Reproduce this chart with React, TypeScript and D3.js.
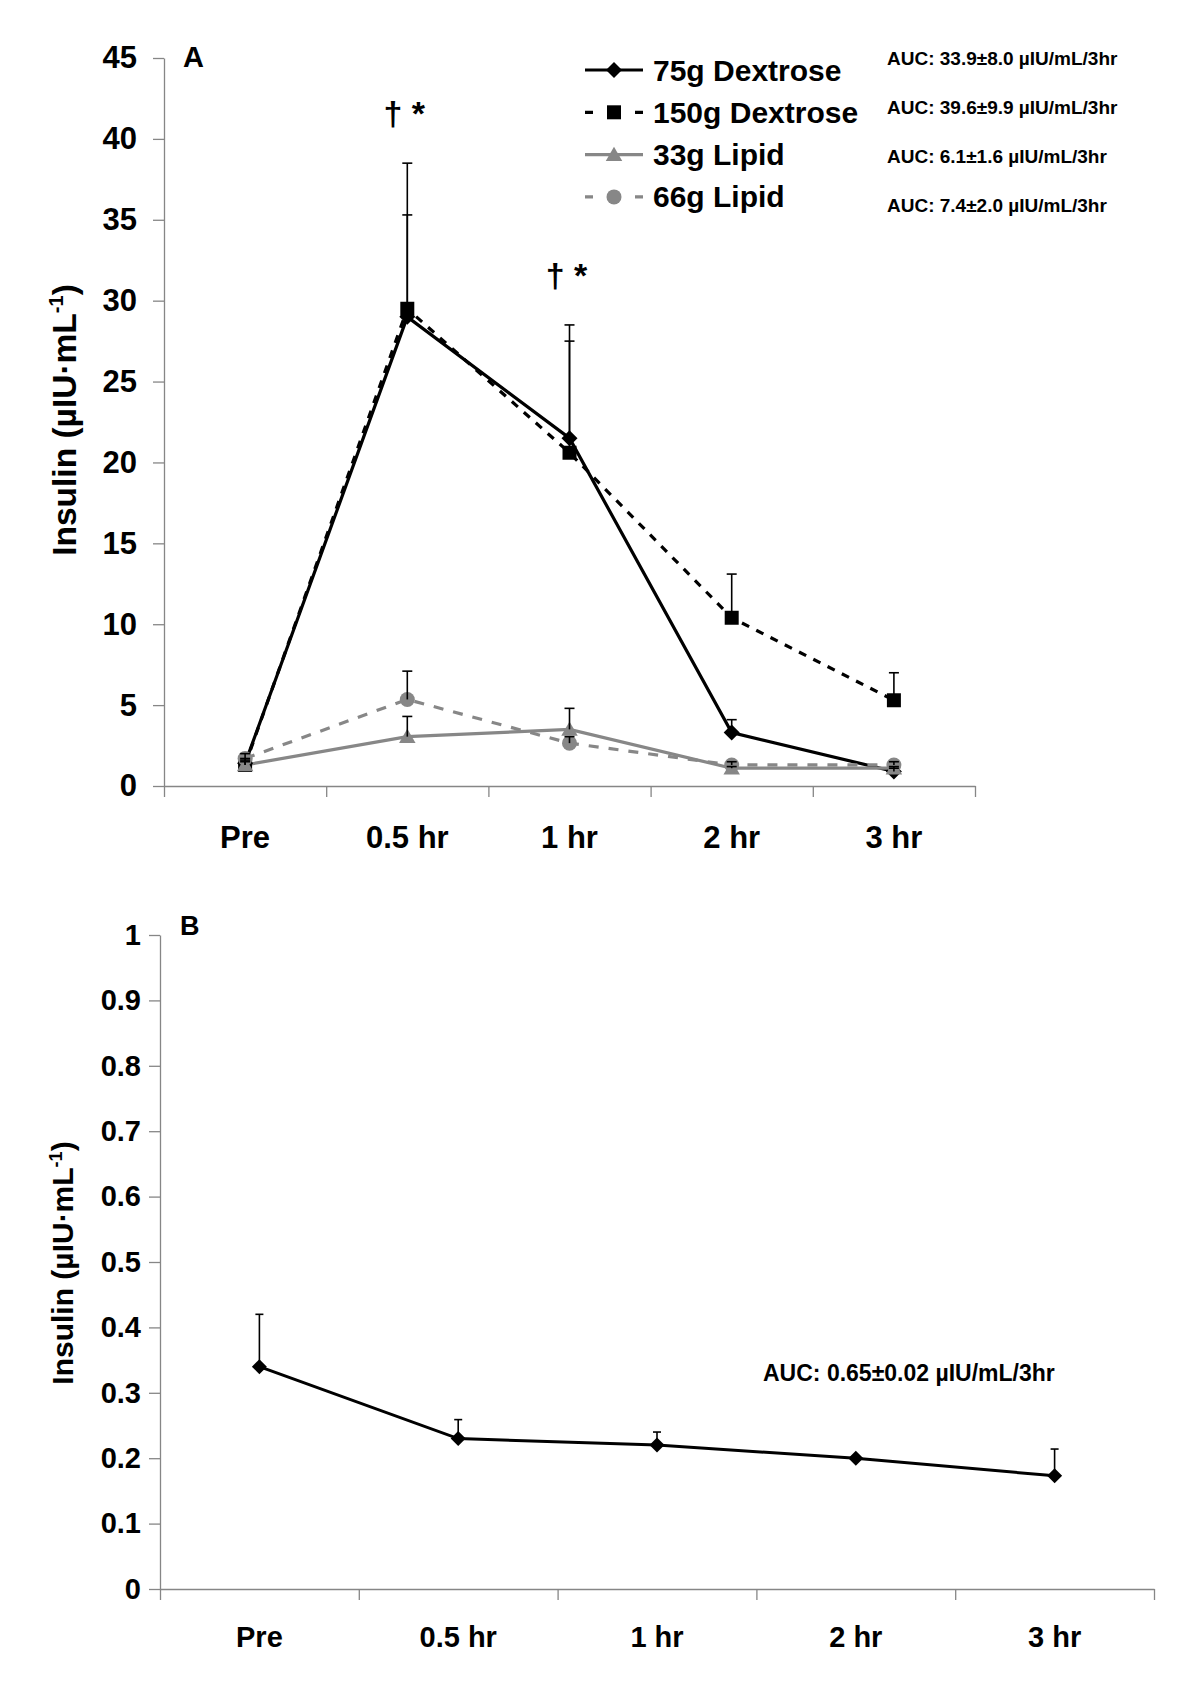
import * as React from "react";
import * as d3 from "d3";

// time points on both panels
const timePoints = ["Pre", "0.5 hr", "1 hr", "2 hr", "3 hr"];

// panel A, insulin (µIU/mL), mean and SD
const dex75 = [1.4, 29.0, 21.5, 3.3, 0.9];
const dex75Sd = [0.3, 6.3, 6.0, 0.8, 0.2];
const dex150 = [1.3, 29.5, 20.6, 10.4, 5.3];
const dex150Sd = [0.3, 9.0, 7.9, 2.7, 1.7];
const lipid33 = [1.3, 3.05, 3.5, 1.1, 1.1];
const lipid33Sd = [0.2, 1.25, 1.3, 0.1, 0.1];
const lipid66 = [1.7, 5.35, 2.65, 1.3, 1.3];
const lipid66Sd = [0.3, 1.75, 0.4, 0.2, 0.2];

const seriesNames = ["75g Dextrose", "150g Dextrose", "33g Lipid", "66g Lipid"];
const aucLabels = [
  "AUC: 33.9±8.0 µIU/mL/3hr",
  "AUC: 39.6±9.9 µIU/mL/3hr",
  "AUC: 6.1±1.6 µIU/mL/3hr",
  "AUC: 7.4±2.0 µIU/mL/3hr",
];
const sigLabels = ["", "† *", "† *", "", ""];
const ticksA = [0, 5, 10, 15, 20, 25, 30, 35, 40, 45];

// panel B
const fasted = [0.34, 0.23, 0.22, 0.2, 0.173];
const fastedSd = [0.08, 0.029, 0.02, 0.003, 0.041];
const aucB = "AUC: 0.65±0.02 µIU/mL/3hr";
const ticksB = [0, 0.1, 0.2, 0.3, 0.4, 0.5, 0.6, 0.7, 0.8, 0.9, 1];

const FONT = '"Liberation Sans", Arial, Helvetica, sans-serif';
const AXIS = "#868686";
const GRAY = "#878787";

type Sel = d3.Selection<SVGSVGElement, unknown, null, undefined>;
type G = d3.Selection<SVGGElement, unknown, null, undefined>;

const diamond = (r: number) => `M0,${-r}L${r},0L0,${r}L${-r},0Z`;
const square = (r: number) => `M${-r},${-r}H${r}V${r}H${-r}Z`;
const triangle = (r: number) =>
  `M0,${-r * 1.05}L${r * 1.1},${r * 0.85}L${-r * 1.1},${r * 0.85}Z`;
const circle = (r: number) =>
  `M${r},0A${r},${r} 0 1,1 ${-r},0A${r},${r} 0 1,1 ${r},0Z`;

interface Series {
  values: number[];
  sd: number[];
  color: string;
  dash: string | null;
  marker: (r: number) => string;
  r: number;
}

function styleAxis(g: G, fontSize: number) {
  g.select(".domain").attr("stroke", AXIS).attr("stroke-width", 1.3);
  g.selectAll(".tick line").attr("stroke", AXIS).attr("stroke-width", 1.3);
  g.selectAll(".tick text")
    .attr("fill", "#000")
    .attr("font-size", fontSize)
    .attr("font-weight", "bold")
    .attr("font-family", FONT);
}

function drawPanel(
  svg: Sel,
  opts: {
    left: number;
    right: number;
    top: number;
    bottom: number;
    max: number;
    ticks: number[];
    tickFont: number;
    tickPad: number;
    xFont: number;
    xPad: number;
    capW: number;
    lineW: number;
    series: Series[];
  }
) {
  const { left, right, top, bottom } = opts;
  const x = d3.scaleBand<string>().domain(timePoints).range([left, right]);
  const xEdge = d3.scaleLinear().domain([0, timePoints.length]).range([left, right]);
  const y = d3.scaleLinear().domain([0, opts.max]).range([bottom, top]);
  const cx = (i: number) => x(timePoints[i])! + x.bandwidth() / 2;

  // y axis
  const ya = svg.append("g").attr("transform", `translate(${left},0)`);
  ya.call(
    d3
      .axisLeft(y)
      .tickValues(opts.ticks)
      .tickSize(11)
      .tickSizeOuter(0)
      .tickPadding(opts.tickPad)
      .tickFormat((d) => String(d))
  );
  styleAxis(ya, opts.tickFont);

  // x axis: ticks on category edges
  const xa = svg.append("g").attr("transform", `translate(0,${bottom})`);
  xa.call(
    d3
      .axisBottom(xEdge)
      .tickValues(d3.range(timePoints.length + 1))
      .tickSize(11)
      .tickSizeOuter(0)
      .tickFormat(() => "")
  );
  styleAxis(xa, opts.xFont);

  const xl = svg.append("g").attr("transform", `translate(0,${bottom})`);
  xl.call(d3.axisBottom(x).tickSize(0).tickPadding(opts.xPad));
  xl.select(".domain").remove();
  styleAxis(xl, opts.xFont);

  const line = d3
    .line<number>()
    .x((_, i) => cx(i))
    .y((d) => y(d));

  const plot = svg.append("g");
  opts.series.forEach((s) => {
    plot
      .append("path")
      .attr("d", line(s.values))
      .attr("fill", "none")
      .attr("stroke", s.color)
      .attr("stroke-width", opts.lineW)
      .attr("stroke-dasharray", s.dash)
      .attr("stroke-linejoin", "miter");
  });
  opts.series.forEach((s) => {
    const g = plot.append("g");
    s.values.forEach((v, i) => {
      g.append("path")
        .attr("d", s.marker(s.r))
        .attr("transform", `translate(${cx(i)},${y(v)})`)
        .attr("fill", s.color);
    });
  });
  // error bars (upper only)
  opts.series.forEach((s) => {
    const g = plot.append("g").attr("stroke", "#000").attr("stroke-width", 1.6);
    s.values.forEach((v, i) => {
      const yt = y(v + s.sd[i]);
      g.append("line")
        .attr("x1", cx(i))
        .attr("x2", cx(i))
        .attr("y1", y(v))
        .attr("y2", yt);
      g.append("line")
        .attr("x1", cx(i) - opts.capW / 2)
        .attr("x2", cx(i) + opts.capW / 2)
        .attr("y1", yt)
        .attr("y2", yt);
    });
  });

  return { x, y, cx };
}

function yTitle(svg: Sel, xPos: number, yPos: number, size: number) {
  const t = svg
    .append("text")
    .attr("transform", `translate(${xPos},${yPos}) rotate(-90)`)
    .attr("text-anchor", "middle")
    .attr("font-family", FONT)
    .attr("font-weight", "bold")
    .attr("font-size", size);
  t.append("tspan").text("Insulin (µIU·mL");
  t.append("tspan")
    .attr("dy", -size * 0.38)
    .attr("font-size", size * 0.6)
    .text("-1");
  t.append("tspan").attr("dy", size * 0.38).text(")");
}

function chart(el: SVGSVGElement) {
  const svg = d3.select(el);
  svg.selectAll("*").remove();
  svg.append("rect").attr("width", 1200).attr("height", 1685).attr("fill", "#fff");

  /* Panel A */
  const seriesA: Series[] = [
    { values: dex75, sd: dex75Sd, color: "#000", dash: null, marker: diamond, r: 8 },
    { values: dex150, sd: dex150Sd, color: "#000", dash: "8,8", marker: square, r: 7 },
    { values: lipid33, sd: lipid33Sd, color: GRAY, dash: null, marker: triangle, r: 7.5 },
    { values: lipid66, sd: lipid66Sd, color: GRAY, dash: "10,10", marker: circle, r: 7.5 },
  ];
  const a = drawPanel(svg, {
    left: 164,
    right: 975,
    top: 58,
    bottom: 786,
    max: 45,
    ticks: ticksA,
    tickFont: 31,
    tickPad: 16,
    xFont: 31,
    xPad: 40,
    capW: 10,
    lineW: 3.2,
    series: seriesA,
  });

  // significance marks above the highest error bar
  sigLabels.forEach((lab, i) => {
    if (!lab) return;
    const top = d3.max(seriesA, (s) => s.values[i] + s.sd[i])!;
    svg
      .append("text")
      .attr("x", a.cx(i) - 3)
      .attr("y", a.y(top) - 38)
      .attr("text-anchor", "middle")
      .attr("font-family", FONT)
      .attr("font-weight", "bold")
      .attr("font-size", 34)
      .text(lab);
  });

  svg
    .append("text")
    .attr("x", 183)
    .attr("y", 67)
    .attr("font-family", FONT)
    .attr("font-weight", "bold")
    .attr("font-size", 29)
    .text("A");

  yTitle(svg, 76, 420, 33.5);

  // legend
  const legend = svg.append("g");
  seriesA.forEach((s, i) => {
    const ly = 70 + i * 42.3;
    const g = legend.append("g").attr("transform", `translate(0,${ly})`);
    g.append("line")
      .attr("x1", 585)
      .attr("x2", 643)
      .attr("stroke", s.color)
      .attr("stroke-width", 3.2)
      .attr("stroke-dasharray", s.dash ? "8,42" : null);
    g.append("path")
      .attr("d", s.marker(s.r))
      .attr("transform", "translate(614,0)")
      .attr("fill", s.color);
    g.append("text")
      .attr("x", 653)
      .attr("y", 10.5)
      .attr("font-family", FONT)
      .attr("font-weight", "bold")
      .attr("font-size", 30)
      .text(seriesNames[i]);
    svg
      .append("text")
      .attr("x", 887)
      .attr("y", 65 + i * 49)
      .attr("font-family", FONT)
      .attr("font-weight", "bold")
      .attr("font-size", 19)
      .text(aucLabels[i]);
  });

  /* Panel B */
  drawPanel(svg, {
    left: 160,
    right: 1154,
    top: 935,
    bottom: 1589,
    max: 1,
    ticks: ticksB,
    tickFont: 29,
    tickPad: 8,
    xFont: 29,
    xPad: 37,
    capW: 8,
    lineW: 3,
    series: [
      { values: fasted, sd: fastedSd, color: "#000", dash: null, marker: diamond, r: 7.5 },
    ],
  });

  svg
    .append("text")
    .attr("x", 180)
    .attr("y", 935)
    .attr("font-family", FONT)
    .attr("font-weight", "bold")
    .attr("font-size", 27)
    .text("B");

  yTitle(svg, 73, 1263, 30);

  svg
    .append("text")
    .attr("x", 763)
    .attr("y", 1381)
    .attr("font-family", FONT)
    .attr("font-weight", "bold")
    .attr("font-size", 23)
    .text(aucB);
}

export default function App() {
  const ref = React.useRef<SVGSVGElement>(null);
  React.useEffect(() => {
    if (ref.current) chart(ref.current);
  }, []);
  return (
    <svg
      ref={ref}
      width={1200}
      height={1685}
      style={{ position: "absolute", left: 0, top: 0, display: "block" }}
    />
  );
}
